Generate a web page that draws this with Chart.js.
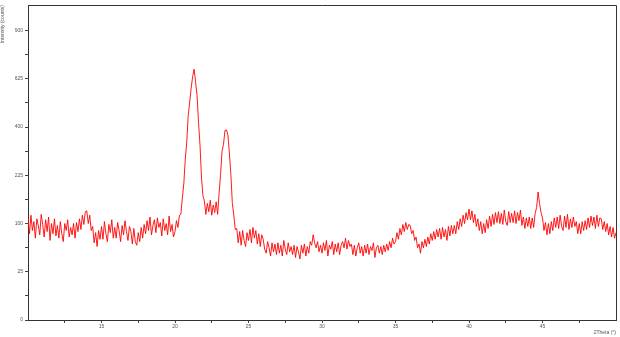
<!DOCTYPE html>
<html>
<head>
<meta charset="utf-8">
<script src="https://cdn.jsdelivr.net/npm/chart.js@4.4.1/dist/chart.umd.min.js"></script>
<style>
html,body{margin:0;padding:0;background:#fff;}
#wrap{width:620px;height:337px;position:relative;}
</style>
</head>
<body>
<div id="wrap"><canvas id="c" width="620" height="337"></canvas></div>
<script>
// Measurement grid (2Theta, degrees)
const startAngle = 10.0;
const stepAngle = 0.1;
// Intensity (counts), one row per degree: 10.x, 11.x, ... 49.x, then 50.0
const counts = [
  112, 80, 118, 86, 104, 72, 110, 96, 78, 120,
  98, 74, 108, 84, 114, 68, 100, 80, 110, 76,
  96, 72, 104, 80, 66, 100, 86, 108, 74, 92,
  78, 100, 72, 102, 84, 110, 88, 118, 98, 126,
  128, 100, 118, 86, 94, 64, 82, 58, 86, 70,
  94, 70, 104, 80, 66, 98, 82, 108, 72, 92,
  72, 102, 86, 66, 96, 78, 106, 84, 68, 94,
  84, 62, 90, 66, 60, 82, 66, 92, 72, 98,
  80, 106, 86, 114, 78, 96, 108, 82, 112, 92,
  102, 76, 110, 86, 100, 78, 116, 84, 98, 74,
  84, 106, 92, 118, 120, 160, 200, 278, 342, 450,
  510, 578, 636, 676, 610, 542, 420, 330, 220, 166,
  152, 120, 146, 126, 154, 118, 142, 124, 150, 120,
  172, 228, 306, 332, 386, 388, 368, 300, 228, 146,
  118, 88, 90, 64, 84, 60, 86, 68, 58, 82,
  68, 88, 64, 92, 72, 86, 62, 80, 58, 78,
  70, 54, 48, 66, 56, 44, 64, 50, 62, 46,
  64, 48, 60, 44, 68, 54, 46, 64, 50, 58,
  46, 60, 42, 58, 50, 40, 60, 48, 62, 44,
  58, 48, 66, 60, 78, 64, 56, 66, 50, 60,
  48, 64, 52, 68, 44, 60, 54, 66, 46, 62,
  50, 64, 46, 60, 66, 56, 72, 54, 68, 58,
  62, 46, 60, 44, 56, 64, 48, 58, 44, 60,
  48, 62, 46, 58, 52, 64, 42, 56, 60, 48,
  58, 46, 60, 50, 62, 52, 66, 56, 72, 62,
  66, 82, 70, 90, 78, 98, 84, 102, 88, 98,
  96, 80, 86, 68, 74, 56, 62, 48, 66, 56,
  70, 58, 74, 62, 80, 68, 84, 70, 88, 74,
  90, 70, 92, 74, 88, 68, 94, 76, 96, 80,
  96, 80, 104, 88, 110, 94, 118, 100, 124, 108,
  132, 108, 128, 102, 120, 94, 110, 86, 104, 80,
  100, 82, 108, 90, 116, 94, 120, 98, 124, 102,
  126, 100, 122, 98, 130, 104, 96, 126, 102, 122,
  102, 128, 100, 124, 106, 130, 96, 114, 90, 112,
  94, 114, 90, 112, 92, 122, 136, 176, 146, 124,
  112, 86, 102, 78, 100, 80, 104, 86, 112, 92,
  114, 90, 118, 94, 86, 116, 92, 120, 88, 110,
  92, 114, 94, 104, 80, 100, 80, 104, 86, 106,
  88, 112, 92, 116, 96, 114, 90, 118, 94, 112,
  110, 88, 104, 84, 100, 78, 94, 74, 92, 72,
  82
];
// Axis ticks
const yMajorTicks = [0, 25, 100, 225, 400, 625, 900];
const yMinorTicks = [6.25, 56.25, 156.25, 306.25, 506.25, 756.25];
const xMajorTicks = [15, 20, 25, 30, 35, 40, 45];
const xMinorTicks = [12.5, 17.5, 22.5, 27.5, 32.5, 37.5, 42.5, 47.5];
const xTitle = '2Theta (°)';
const yTitle = 'Intensity (counts)';

// Square-root intensity scale
class SqrtScale extends Chart.LinearScale {
  getPixelForValue(value) {
    const lo = Math.sqrt(Math.max(this.min, 0));
    const hi = Math.sqrt(this.max);
    const v = Math.sqrt(Math.max(value, 0));
    return this.getPixelForDecimal((v - lo) / (hi - lo));
  }
  getValueForPixel(pixel) {
    const lo = Math.sqrt(Math.max(this.min, 0));
    const hi = Math.sqrt(this.max);
    const s = lo + this.getDecimalForPixel(pixel) * (hi - lo);
    return s * s;
  }
}
SqrtScale.id = 'sqrt';
SqrtScale.defaults = Chart.LinearScale.defaults;
Chart.register(SqrtScale);

const points = counts.map((c, i) => ({ x: +(startAngle + i * stepAngle).toFixed(2), y: c }));

const frame = {
  id: 'frame',
  afterDraw(chart) {
    const { ctx, chartArea: a } = chart;
    ctx.save();
    ctx.strokeStyle = '#333';
    ctx.lineWidth = 1;
    ctx.beginPath();
    ctx.moveTo(Math.round(a.left), Math.round(a.top) + 0.5);
    ctx.lineTo(Math.round(a.right) + 0.5, Math.round(a.top) + 0.5);
    ctx.lineTo(Math.round(a.right) + 0.5, Math.round(a.bottom));
    ctx.stroke();
    ctx.restore();
  }
};

const tickFont = { family: 'Liberation Sans, Arial, sans-serif', size: 5 };

new Chart(document.getElementById('c'), {
  type: 'line',
  data: {
    datasets: [{
      data: points,
      borderColor: '#ff0000',
      borderWidth: 0.9,
      pointRadius: 0,
      tension: 0,
      fill: false
    }]
  },
  options: {
    responsive: false,
    animation: false,
    layout: { padding: { top: 3, right: 4, left: 0, bottom: 0 } },
    plugins: { legend: { display: false }, tooltip: { enabled: false } },
    scales: {
      x: {
        type: 'linear',
        min: 10,
        max: 50,
        afterBuildTicks(axis) {
          axis.ticks = xMajorTicks.concat(xMinorTicks).sort((a, b) => a - b).map(v => ({ value: v }));
        },
        afterFit(axis) { axis.height = 17; },
        ticks: {
          autoSkip: false,
          maxRotation: 0,
          padding: 1,
          color: '#555',
          font: tickFont,
          callback: (v) => xMajorTicks.includes(v) ? String(v) : ''
        },
        grid: { display: true, drawOnChartArea: false, drawTicks: true, tickLength: 3, tickColor: '#444' },
        border: { display: true, color: '#333', width: 1 },
        title: {
          display: true,
          text: xTitle,
          align: 'end',
          color: '#555',
          font: tickFont,
          padding: { top: 0, bottom: 1 }
        }
      },
      y: {
        type: 'sqrt',
        min: 0,
        max: 1066,
        afterBuildTicks(axis) {
          axis.ticks = yMajorTicks.concat(yMinorTicks).sort((a, b) => a - b).map(v => ({ value: v }));
        },
        afterFit(axis) { axis.width = 28; },
        ticks: {
          autoSkip: false,
          padding: 2,
          color: '#555',
          font: tickFont,
          callback: (v) => yMajorTicks.includes(v) ? String(v) : ''
        },
        grid: { display: true, drawOnChartArea: false, drawTicks: true, tickLength: 3, tickColor: '#444' },
        border: { display: true, color: '#333', width: 1 },
        title: {
          display: true,
          text: yTitle,
          align: 'end',
          color: '#555',
          font: tickFont,
          padding: { top: 0, bottom: 0 }
        }
      }
    }
  },
  plugins: [frame]
});
</script>
</body>
</html>
